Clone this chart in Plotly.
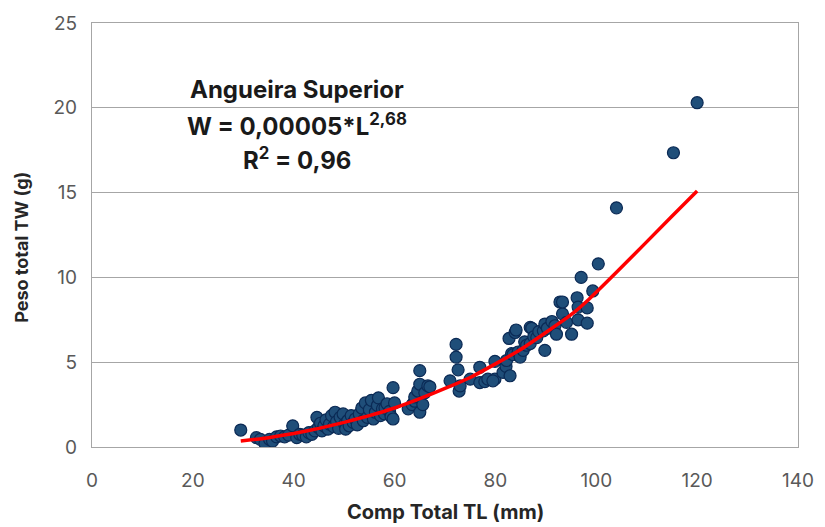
import plotly.graph_objects as go

# Total length (mm) and total weight (g) of each fish sampled
comp_tl = [
    29.5, 32.6, 33.4, 34.3, 35.2, 35.8, 36.6, 37.4, 38.2, 39.0, 39.8, 40.6, 41.2, 41.8, 42.5, 43.0, 43.6, 44.2,
    44.6, 44.9, 45.3, 45.6, 46.0, 46.4, 46.8, 47.1, 47.5, 47.9, 48.2, 48.5, 48.9, 49.2, 49.8, 50.1, 50.3, 50.7,
    51.0, 51.4, 51.8, 52.2, 52.6, 53.0, 53.5, 53.8, 54.2, 54.6, 55.0, 55.4, 55.8, 56.2, 56.6, 56.8, 57.2, 57.6,
    58.0, 58.1, 58.5, 59.0, 59.3, 59.7, 59.7, 60.0,
    62.7, 63.5, 64.0, 64.0, 64.6, 65.0, 65.0, 65.0, 65.6, 66.0, 66.6, 67.0,
    71.0, 72.2, 72.2, 72.6, 72.8, 73.0,
    75.0, 76.9, 76.9, 77.9, 78.5, 79.9, 79.9, 79.5, 81.5,
    82.1, 82.2, 82.7, 82.9, 83.2, 83.5, 83.9, 84.1, 84.5, 84.9, 85.5, 85.8, 86.2, 86.9, 86.9, 87.2, 87.6, 88.2,
    88.6, 89.5, 89.8, 89.8, 90.3, 91.2, 91.8, 92.1, 92.8, 93.3, 93.3, 94.1, 95.1, 96.2, 96.4, 96.4, 97.0, 98.2,
    98.2, 99.3, 100.4, 104.0, 115.3, 120.0,
]
peso_tw = [
    1.0, 0.55, 0.45, 0.2, 0.45, 0.35, 0.6, 0.65, 0.6, 0.7, 1.25, 0.55, 0.75, 0.7, 0.6, 0.85, 0.75, 0.95,
    1.75, 1.15, 1.4, 0.95, 1.25, 1.6, 1.05, 1.35, 1.85, 1.2, 2.05, 1.5, 1.1, 1.75, 1.95, 1.35, 1.05, 1.55,
    1.25, 1.85, 1.45, 1.65, 1.3, 1.95, 2.3, 1.55, 2.6, 1.75, 2.2, 2.75, 1.65, 2.05, 2.45, 2.9, 1.85, 2.25,
    1.95, 2.3, 2.55, 2.1, 1.8, 3.5, 1.65, 2.6,
    2.25, 2.5, 2.7, 2.95, 3.3, 3.7, 4.5, 2.05, 2.5, 3.2, 3.6, 3.55,
    3.9, 6.05, 5.3, 4.55, 3.3, 3.6,
    4.0, 4.7, 3.8, 3.85, 4.0, 5.05, 4.0, 3.9, 4.4,
    4.75, 5.1, 6.4, 4.2, 5.5, 5.45, 6.75, 6.9, 5.6, 5.3, 5.7, 6.2, 6.0, 6.1, 7.05, 7.0, 6.5, 6.45,
    6.8, 6.85, 7.25, 5.7, 7.0, 7.4, 7.15, 6.65, 8.55, 7.85, 8.55, 7.35, 6.65, 8.8, 8.25, 7.5, 10.0, 8.2,
    7.3, 9.2, 10.8, 14.1, 17.35, 20.3,
]

# Fitted length-weight curve
fit_tl = [29.5, 35, 40, 45, 50, 55, 60, 65, 70, 75, 80, 85, 90, 95, 98.5, 104, 115, 120]
fit_tw = [0.35, 0.55, 0.8, 1.1, 1.45, 1.85, 2.3, 2.85, 3.45, 4.1, 4.9, 5.75, 6.75, 7.8, 8.7, 10.3, 13.6, 15.1]

x_ticks = [0, 20, 40, 60, 80, 100, 120, 140]
y_ticks = [0, 5, 10, 15, 20, 25]

grid = "#A6A6A6"
family = "Inter, Open Sans, sans-serif"
tick_font = dict(family=family, size=19, color="#595959")
x_title_font = dict(family=family, size=20, color="#262626", weight="bold")
y_title_font = dict(family=family, size=18, color="#262626", weight="bold")

fig = go.Figure()
fig.add_trace(go.Scatter(
    x=comp_tl, y=peso_tw, mode="markers",
    marker=dict(size=12, color="#1F4E79", line=dict(color="#0B2A55", width=1.2)),
    showlegend=False,
))
fig.add_trace(go.Scatter(
    x=fit_tl, y=fit_tw, mode="lines",
    line=dict(color="#FF0000", width=3.5, shape="spline", smoothing=0.4),
    showlegend=False,
))

text_font = dict(family=family, size=24, color="#1A1A1A", weight="bold")
labels = [
    ("Angueira Superior", 21.1),
    ("W = 0,00005*L<sup>2,68</sup>", 19.0),
    ("R<sup>2</sup> = 0,96", 17.0),
]
for txt, yv in labels:
    fig.add_annotation(x=40.6, y=yv, text=txt, showarrow=False, font=text_font,
                       xanchor="center", yanchor="middle")

# Axis titles, placed as annotations so the plot area keeps its size
fig.add_annotation(
    text="Peso total TW (g)", textangle=-90, showarrow=False,
    xref="paper", yref="paper", x=-0.099, y=0.47,
    xanchor="center", yanchor="middle", font=y_title_font,
)
fig.add_annotation(
    text="Comp Total TL (mm)", showarrow=False,
    xref="paper", yref="paper", x=0.5, y=-0.153,
    xanchor="center", yanchor="middle", font=x_title_font,
)

fig.update_xaxes(
    range=[0, 140], tickvals=x_ticks, showgrid=False, zeroline=False,
    showline=True, linecolor=grid, linewidth=1.3, mirror=True,
    ticks="", tickfont=tick_font, ticklabelstandoff=16, automargin=False,
)
fig.update_yaxes(
    range=[0, 25], tickvals=y_ticks, showgrid=True, gridcolor=grid, gridwidth=1.3,
    zeroline=False, showline=True, linecolor=grid, linewidth=1.3, mirror=True,
    ticks="", tickfont=tick_font, ticklabelstandoff=10, automargin=False,
)
fig.update_layout(
    width=825, height=527,
    margin=dict(l=92, r=27, t=23, b=80),
    paper_bgcolor="white", plot_bgcolor="white",
)

fig.write_html("out.html")
